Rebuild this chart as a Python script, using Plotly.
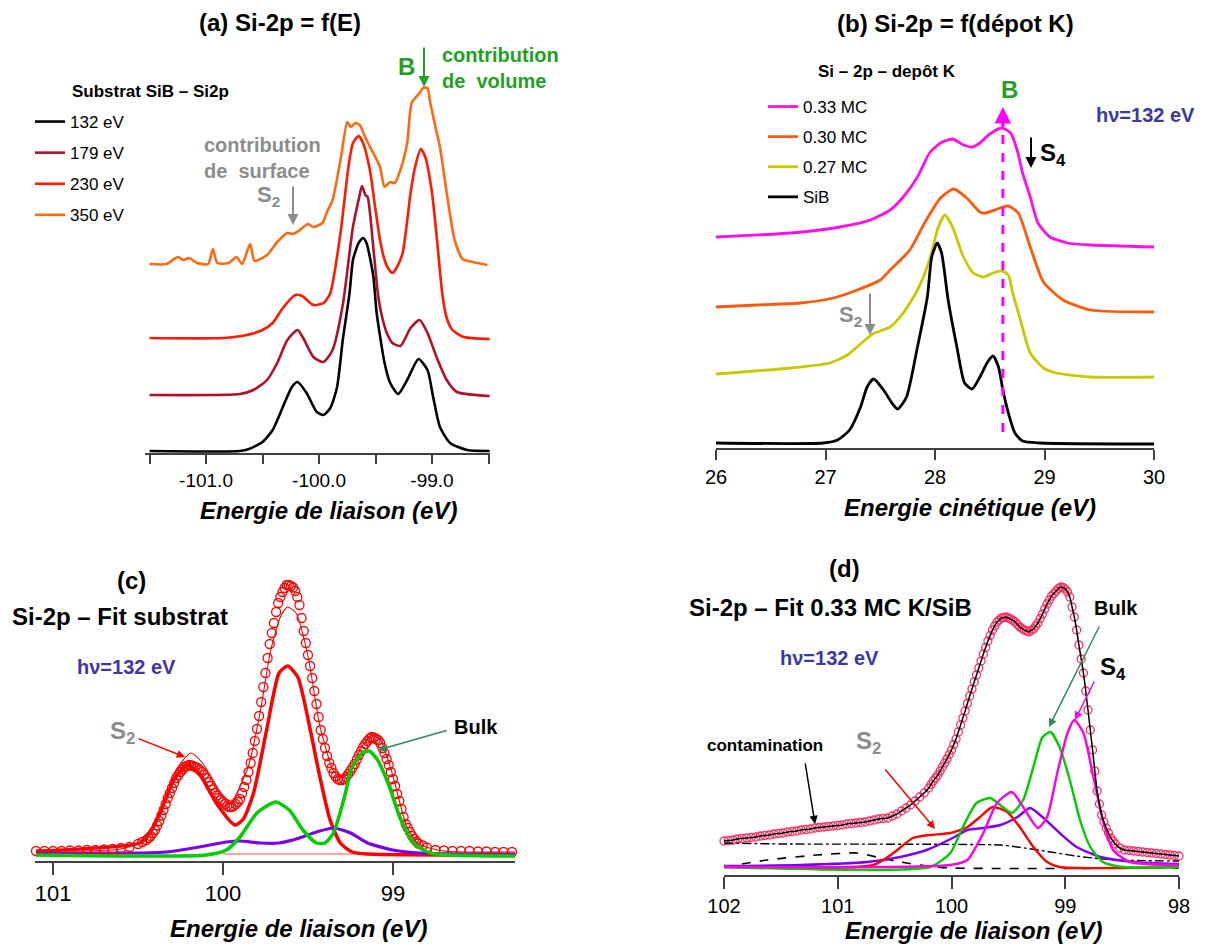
import plotly.graph_objects as go

W, H = 1205, 947
FONT = "Liberation Sans, Arial, Helvetica, sans-serif"
NARROW = "Liberation Sans Narrow, Arial Narrow, Liberation Sans, sans-serif"

# ---------------- Panel (a): Si-2p = f(E) ----------------
A_E_132 = [-101.50, -100.70, -100.62, -100.50, -100.41, -100.32, -100.24, -100.19, -100.11, -100.02, -99.96, -99.90,
           -99.84, -99.79, -99.73, -99.70, -99.65, -99.61, -99.58, -99.52, -99.49, -99.42, -99.37, -99.30, -99.22,
           -99.12, -99.04, -98.99, -98.93, -98.84, -98.69, -98.49]
A_I_132 = [2, 2, 4, 11, 23, 46, 66, 71, 60, 41, 38, 45, 66, 113, 160, 193, 210, 215, 210, 177, 140, 90, 70, 59, 73,
           94, 83, 56, 26, 10, 3, 2]

A_E_179 = [-101.50, -100.70, -100.58, -100.46, -100.37, -100.28, -100.19, -100.14, -100.05, -99.96, -99.88, -99.79,
           -99.70, -99.65, -99.62, -99.59, -99.57, -99.52, -99.48, -99.45, -99.40, -99.35, -99.28, -99.19, -99.11,
           -99.04, -98.96, -98.87, -98.78, -98.49]
A_I_179 = [58, 59, 63, 73, 90, 113, 123, 115, 96, 91, 103, 148, 226, 253, 267, 258, 256, 206, 160, 140, 120, 110,
           107, 125, 133, 120, 96, 73, 61, 57]

A_E_230 = [-101.50, -100.85, -100.64, -100.50, -100.41, -100.32, -100.21, -100.15, -100.05, -99.96, -99.90, -99.81,
           -99.74, -99.70, -99.65, -99.61, -99.55, -99.50, -99.46, -99.42, -99.39, -99.35, -99.31, -99.26, -99.19,
           -99.15, -99.10, -99.06, -99.00, -98.95, -98.91, -98.87, -98.82, -98.72, -98.49]
A_I_230 = [115, 115, 118, 123, 130, 145, 158, 157, 148, 150, 160, 220, 286, 310, 317, 310, 283, 243, 213, 193, 185,
           180, 186, 200, 260, 286, 304, 296, 260, 206, 160, 135, 123, 116, 114]

A_E_350 = [-101.50, -101.35, -101.25, -101.20, -101.15, -101.08, -100.98, -100.94, -100.90, -100.80, -100.73, -100.68,
           -100.61, -100.57, -100.46, -100.37, -100.28, -100.23, -100.17, -100.10, -100.05, -99.97, -99.93, -99.88,
           -99.81, -99.75, -99.72, -99.68, -99.64, -99.58, -99.52, -99.46, -99.42, -99.37, -99.33, -99.28, -99.22,
           -99.18, -99.11, -99.08, -99.04, -99.02, -98.97, -98.93, -98.87, -98.80, -98.73, -98.64, -98.51]
A_I_350 = [189, 189, 196, 193, 195, 190, 189, 204, 190, 190, 196, 189, 209, 192, 198, 211, 220, 219, 223, 229, 226,
           230, 241, 253, 293, 331, 326, 330, 328, 313, 300, 286, 266, 271, 270, 283, 310, 350, 360, 365, 365, 353,
           326, 306, 260, 213, 194, 191, 188]

A_NAMES = ["132 eV", "179 eV", "230 eV", "350 eV"]
A_COLORS = ["#000000", "#B0102A", "#FF1A00", "#FF6A10"]
A_TICKVALS = [-101.0, -100.0, -99.0]
A_TICKTEXT = ["-101.0", "-100.0", "-99.0"]

# ---------------- Panel (b): Si-2p = f(dépot K) ----------------
B_KE_033 = [26.00, 26.68, 27.13, 27.41, 27.59, 27.71, 27.84, 27.95, 28.05, 28.16, 28.26, 28.34, 28.41, 28.50, 28.61,
            28.69, 28.75, 28.80, 28.87, 28.94, 29.05, 29.21, 29.42, 30.00]
B_I_033 = [211, 215, 221, 228, 238, 251, 271, 295, 305, 309, 303, 301, 305, 314, 320, 315, 298, 275, 251, 225, 211,
           205, 203, 201]

B_KE_030 = [26.00, 26.37, 26.77, 27.07, 27.29, 27.50, 27.59, 27.77, 27.91, 28.05, 28.17, 28.29, 28.41, 28.46, 28.57,
            28.67, 28.76, 28.87, 28.99, 29.17, 29.42, 30.00]
B_I_030 = [141, 143, 145, 150, 158, 168, 178, 198, 226, 250, 259, 250, 236, 235, 239, 242, 235, 201, 166, 148, 138, 136]

B_KE_027 = [26.00, 26.68, 27.04, 27.20, 27.34, 27.43, 27.59, 27.71, 27.84, 27.95, 28.03, 28.09, 28.16, 28.26, 28.35,
            28.44, 28.53, 28.61, 28.67, 28.71, 28.78, 28.87, 28.99, 29.11, 29.42, 30.00]
B_I_027 = [74, 80, 85, 93, 106, 114, 121, 135, 158, 188, 221, 233, 221, 191, 175, 171, 175, 177, 173, 155, 128, 95,
           80, 75, 71, 71]

B_KE_SIB = [26.00, 26.98, 27.11, 27.22, 27.32, 27.38, 27.44, 27.53, 27.62, 27.66, 27.74, 27.84, 27.93, 27.97, 28.02,
            28.06, 28.12, 28.20, 28.27, 28.34, 28.41, 28.48, 28.53, 28.58, 28.62, 28.67, 28.73, 28.80, 28.96, 30.00]
B_I_SIB = [5, 5, 8, 18, 41, 61, 69, 58, 43, 39, 51, 101, 151, 191, 205, 195, 148, 101, 65, 59, 71, 86, 92, 81, 58,
           35, 15, 7, 5, 4]

B_NAMES = ["0.33 MC", "0.30 MC", "0.27 MC", "SiB"]
B_COLORS = ["#FF10E8", "#FF5A0A", "#C8C800", "#000000"]
B_TICKVALS = [26, 27, 28, 29, 30]
B_LINE_KE = 28.62  # position of the bulk peak "B"

# ---------------- Panel (c): fit substrat ----------------
C_E_DATA = [98.30, 98.35, 98.40, 98.45, 98.50, 98.55, 98.60, 98.65, 98.70, 98.75, 98.800, 98.825,
            98.8500, 98.8625, 98.8750, 98.8875, 98.9000, 98.9125, 98.9250, 98.9375, 98.9500, 98.9625,
            98.9750, 98.9875, 99.0000, 99.0125, 99.0250, 99.0375, 99.0500, 99.0625, 99.0750, 99.0875,
            99.1000, 99.1125, 99.1250, 99.1375, 99.1500, 99.1625, 99.1750, 99.1875, 99.2000, 99.2125,
            99.2250, 99.2375, 99.2500, 99.2625, 99.2750, 99.2875, 99.3000, 99.3125, 99.3250, 99.3375,
            99.3500, 99.3625, 99.3750, 99.3875, 99.4000, 99.4125, 99.4250, 99.4375, 99.4500, 99.4625,
            99.4750, 99.4875, 99.5000, 99.5125, 99.5250, 99.5375, 99.5500, 99.5625, 99.5750, 99.5875,
            99.6000, 99.6125, 99.6250, 99.6375, 99.6500, 99.6625, 99.6750, 99.6875, 99.7000, 99.7125,
            99.7250, 99.7375, 99.7500, 99.7625, 99.7750, 99.7875, 99.8000, 99.8125, 99.8250, 99.8375,
            99.8500, 99.8625, 99.8750, 99.8875, 99.9000, 99.9125, 99.9250, 99.9375, 99.9500, 99.9625,
            99.9750, 99.9875, 100.0000, 100.0125, 100.0250, 100.0375, 100.0500, 100.0625, 100.0750, 100.0875,
            100.1000, 100.1125, 100.1250, 100.1375, 100.1500, 100.1625, 100.1750, 100.1875, 100.2000, 100.2125,
            100.2250, 100.2375, 100.2500, 100.2625, 100.2750, 100.2875, 100.3000, 100.3125, 100.3250, 100.3375,
            100.3500, 100.3625, 100.3750, 100.3875, 100.4000, 100.4125, 100.4250, 100.4375, 100.4500,
            100.475, 100.500, 100.55, 100.60, 100.65, 100.70, 100.75, 100.80, 100.85, 100.90, 100.95, 101.00,
            101.05, 101.10]
C_I_DATA = [9, 9, 9, 9.5, 9.5, 10, 10, 10, 10.5, 11, 13.5, 15.5,
            17.5, 19.5, 22, 25, 29, 33, 37, 44, 52, 60,
            67, 75, 82, 89, 96, 102, 108, 113, 118, 121,
            122, 123.5, 124, 122.5, 120, 117, 114, 110, 106, 101.5,
            97, 93.5, 90, 87, 84, 82, 81, 81, 82, 84.5,
            88, 93, 98, 105, 113, 122, 131, 144, 157, 170,
            183, 195, 206, 218, 230, 243, 256, 264, 270, 273.5,
            275, 276, 276, 273, 269, 264, 258, 249, 238, 228,
            217, 203, 188, 174, 159, 145, 132, 120, 108, 98,
            89, 81, 74, 68, 62, 59, 57, 55, 54, 54,
            55, 57, 59, 61, 63, 65.5, 68, 71.5, 75, 79,
            83, 86, 89, 91, 93, 94, 95, 95.5, 96, 95,
            94, 91.5, 89, 86, 83, 78, 73, 68, 63, 57,
            51, 45.5, 40, 35.5, 31, 28, 25, 23, 21,
            19, 17, 14, 13, 12, 11.5, 11, 11, 10.5, 10.5, 10, 10,
            10, 10]

C_E_ENV = [101.10, 100.60, 100.45, 100.35, 100.28, 100.19, 100.12, 100.00, 99.95, 99.85, 99.78, 99.72, 99.66, 99.62,
           99.57, 99.50, 99.43, 99.35, 99.30, 99.24, 99.18, 99.12, 99.07, 99.00, 98.92, 98.85, 98.70, 98.28]
C_I_ENV = [10, 12, 22, 55, 90, 108, 98, 65, 60, 95, 150, 210, 245, 254, 248, 205, 135, 90, 83, 95, 115, 126, 120, 85,
           35, 17, 10, 9]

C_E_SURF = [101.10, 100.49, 100.43, 100.37, 100.29, 100.21, 100.14, 100.04, 99.93, 99.88, 99.82, 99.74, 99.67, 99.62,
            99.56, 99.49, 99.43, 99.37, 99.31, 99.24, 99.15, 98.28]
C_I_SURF = [10, 18, 28, 48, 81, 96, 88, 58, 36, 42, 68, 134, 188, 195, 184, 134, 84, 41, 18, 9, 7, 6]

C_E_BULK = [101.10, 100.10, 99.98, 99.90, 99.80, 99.69, 99.61, 99.53, 99.45, 99.40, 99.35, 99.29, 99.24, 99.18,
            99.14, 99.09, 99.02, 98.96, 98.88, 98.78, 98.28]
C_I_BULK = [6, 6, 11, 24, 48, 59, 51, 31, 18, 18, 28, 61, 94, 108, 110, 101, 74, 44, 18, 8, 5]

C_E_S3 = [101.10, 100.49, 100.33, 100.14, 99.98, 99.90, 99.78, 99.67, 99.55, 99.45, 99.35, 99.25, 99.15, 99.00, 98.84,
          98.28]
C_I_S3 = [8, 8, 9, 14, 19, 20, 18, 18, 23, 29, 33, 28, 18, 11, 8, 7]

C_E_BASE = [100.0, 98.28]
C_I_BASE = [7, 7]
C_TICKVALS = [101, 100, 99]

# ---------------- Panel (d): fit 0.33 MC K/SiB ----------------
D_E_DATA = [98.00, 98.04, 98.08, 98.12, 98.16, 98.20, 98.24, 98.28, 98.32, 98.36, 98.40, 98.44, 98.48, 98.52, 98.56,
            98.58, 98.60, 98.62, 98.64, 98.66, 98.68, 98.70, 98.72, 98.74, 98.76, 98.78, 98.80, 98.82, 98.84, 98.86,
            98.88, 98.90, 98.92, 98.94, 98.96, 98.98, 99.00, 99.02, 99.04, 99.06, 99.08, 99.10, 99.12, 99.14, 99.16,
            99.18, 99.20, 99.22, 99.24, 99.26, 99.28, 99.30, 99.32, 99.34, 99.36, 99.38, 99.40, 99.42, 99.44, 99.46,
            99.48, 99.50, 99.52, 99.54, 99.56, 99.58, 99.60, 99.62, 99.64, 99.66, 99.68, 99.70, 99.72, 99.74, 99.76,
            99.78, 99.80, 99.82, 99.84, 99.86, 99.88, 99.90, 99.92, 99.94, 99.96, 99.98, 100.00, 100.02, 100.04,
            100.06, 100.08, 100.10, 100.12, 100.14, 100.16, 100.18, 100.20, 100.24, 100.28,
            100.32, 100.36, 100.40, 100.44, 100.48, 100.52, 100.56, 100.60, 100.64, 100.68, 100.72, 100.76, 100.80,
            100.84, 100.88, 100.92, 100.96, 101.00, 101.04, 101.08, 101.12, 101.16, 101.20, 101.24, 101.28, 101.32,
            101.36, 101.40, 101.44, 101.48, 101.52, 101.56, 101.60, 101.64, 101.68, 101.72, 101.76, 101.80, 101.84,
            101.88, 101.92, 101.96, 102.00]
D_I_DATA = [19, 19.5, 20, 20.5, 21, 21.5, 22, 22.5, 23, 23.5, 24, 24.5, 25, 27, 31,
            34, 37, 42, 47, 53, 60, 71, 84, 104, 125, 145, 165, 184, 202, 216,
            230, 245, 258, 268, 278, 283, 286, 287.5, 288, 286.5, 284, 281.5, 279, 275, 271,
            266, 261, 256.5, 252, 249, 246, 244.5, 243, 244, 245, 246.5, 248, 250.5, 253, 254.5,
            256, 257, 258, 257.5, 257, 255, 253, 249, 245, 239.5, 234, 227.5, 221, 214, 207,
            200, 193, 186, 179, 171.5, 164, 157, 150, 143, 136, 130.5, 125, 120.5, 116,
            112, 108, 104, 100, 97, 94, 90.5, 87, 82, 78,
            74, 70, 67, 64, 61, 59, 57, 56.5, 56, 55, 54, 53, 52.5,
            52, 51.5, 51, 50, 49.5, 49, 48.5, 48, 47.5, 47, 46, 45.5, 45,
            44, 43.5, 43, 42, 41.5, 41, 40, 39.5, 39, 38, 37.5, 37, 36.5,
            36, 35, 34.5, 34]

D_E_S2 = [102.00, 100.69, 100.51, 100.34, 100.19, 100.01, 99.86, 99.75, 99.64, 99.51, 99.40, 99.28, 99.16, 99.05, 98.00]
D_I_S2 = [8, 10, 22, 37, 40, 42, 48, 58, 68, 63, 48, 28, 13, 8, 8]

D_E_BULK = [102.00, 100.19, 100.01, 99.90, 99.78, 99.66, 99.55, 99.47, 99.37, 99.28, 99.20, 99.13, 99.05, 98.96, 98.87,
            98.78, 98.67, 98.49, 98.00]
D_I_BULK = [8, 8, 22, 48, 72, 77, 68, 62, 75, 108, 138, 143, 128, 95, 55, 28, 13, 8, 8]

D_E_S4 = [102.00, 100.01, 99.86, 99.72, 99.60, 99.47, 99.37, 99.24, 99.16, 99.07, 98.98, 98.92, 98.84, 98.76, 98.67,
          98.58, 98.43, 98.00]
D_I_S4 = [8, 10, 15, 42, 72, 83, 68, 47, 58, 102, 142, 155, 142, 102, 55, 25, 13, 10]

D_E_S3 = [102.00, 101.33, 100.74, 100.45, 100.22, 99.99, 99.86, 99.72, 99.57, 99.42, 99.31, 99.20, 99.05, 98.90, 98.69,
          98.40, 98.00]
D_I_S3 = [9, 10, 13, 18, 25, 37, 45, 47, 50, 58, 67, 58, 42, 28, 18, 13, 11]

D_E_BG = [102.00, 101.48, 99.57, 99.42, 99.13, 98.84, 98.55, 98.00]
D_I_BG = [32, 31, 30, 28, 23, 18, 15, 14]

D_E_CONT = [102.00, 101.62, 101.18, 100.83, 100.66, 100.45, 100.22, 100.01, 98.00]
D_I_CONT = [8, 15, 20, 22, 18, 13, 9, 7, 7]
D_TICKVALS = [102, 101, 100, 99, 98]


# ---------------- helpers ----------------
def fx(px):
    return px / W


def fy(py):
    return 1 - py / H


def label(x, y, s, size, color="#000000", bold=True, italic=False, xanchor="center", family=FONT):
    return dict(x=fx(x), y=fy(y), xref="paper", yref="paper", text=s, showarrow=False,
                xanchor=xanchor, yanchor="middle", align="left",
                font=dict(size=size, color=color, family=family,
                          weight="bold" if bold else "normal",
                          style="italic" if italic else "normal"))


def arrow(x0, y0, x1, y1, color, width=1.5, size=1.1, head=2):
    return dict(x=fx(x1), y=fy(y1), xref="paper", yref="paper", ax=x0 - x1, ay=y0 - y1,
                axref="pixel", ayref="pixel", text="", showarrow=True, arrowhead=head,
                arrowsize=size, arrowwidth=width, arrowcolor=color)


fig = go.Figure()

# panel (a)
for name, xs, ys, col in zip(A_NAMES, [A_E_132, A_E_179, A_E_230, A_E_350],
                             [A_I_132, A_I_179, A_I_230, A_I_350], A_COLORS):
    fig.add_trace(go.Scatter(x=xs, y=ys, mode="lines", name=name, legend="legend", legendgroup=name,
                             line=dict(color=col, width=2.6, shape="spline", smoothing=0.6),
                             xaxis="x", yaxis="y"))

# panel (b)
for name, xs, ys, col in zip(B_NAMES, [B_KE_033, B_KE_030, B_KE_027, B_KE_SIB],
                             [B_I_033, B_I_030, B_I_027, B_I_SIB], B_COLORS):
    fig.add_trace(go.Scatter(x=xs, y=ys, mode="lines", name=name, legend="legend2", legendgroup="b" + name,
                             line=dict(color=col, width=2.8, shape="spline", smoothing=0.6),
                             xaxis="x2", yaxis="y2"))

# panel (c)
fig.add_trace(go.Scatter(x=C_E_BASE, y=C_I_BASE, mode="lines", showlegend=False,
                         line=dict(color="#FF5050", width=1.2), xaxis="x3", yaxis="y3"))
fig.add_trace(go.Scatter(x=C_E_SURF, y=C_I_SURF, mode="lines", showlegend=False,
                         line=dict(color="#FF0000", width=3.5, shape="spline", smoothing=0.6),
                         xaxis="x3", yaxis="y3"))
fig.add_trace(go.Scatter(x=C_E_S3, y=C_I_S3, mode="lines", showlegend=False,
                         line=dict(color="#7A00F0", width=3.2, shape="spline", smoothing=0.6),
                         xaxis="x3", yaxis="y3"))
fig.add_trace(go.Scatter(x=C_E_DATA, y=C_I_DATA, mode="markers", showlegend=False, cliponaxis=False,
                         marker=dict(symbol="circle-open", size=9, color="#FF0000", line=dict(width=1.3)),
                         xaxis="x3", yaxis="y3"))
fig.add_trace(go.Scatter(x=C_E_ENV, y=C_I_ENV, mode="lines", showlegend=False,
                         line=dict(color="#FF0000", width=1.1, shape="spline", smoothing=0.6),
                         xaxis="x3", yaxis="y3"))
fig.add_trace(go.Scatter(x=C_E_BULK, y=C_I_BULK, mode="lines", showlegend=False,
                         line=dict(color="#00CC00", width=3.5, shape="spline", smoothing=0.6),
                         xaxis="x3", yaxis="y3"))

# panel (d)
fig.add_trace(go.Scatter(x=D_E_DATA, y=D_I_DATA, mode="markers", showlegend=False, cliponaxis=False,
                         marker=dict(symbol="circle-open", size=8, color="#FF2E63", line=dict(width=1.3)),
                         xaxis="x4", yaxis="y4"))
fig.add_trace(go.Scatter(x=D_E_CONT, y=D_I_CONT, mode="lines", showlegend=False,
                         line=dict(color="#000000", width=1.6, dash="dash", shape="spline", smoothing=0.6),
                         xaxis="x4", yaxis="y4"))
fig.add_trace(go.Scatter(x=D_E_BG, y=D_I_BG, mode="lines", showlegend=False,
                         line=dict(color="#000000", width=1.4, dash="dashdot", shape="spline", smoothing=0.6),
                         xaxis="x4", yaxis="y4"))
for xs, ys, col in [(D_E_S3, D_I_S3, "#7A00F0"), (D_E_S2, D_I_S2, "#FF0000"),
                    (D_E_BULK, D_I_BULK, "#00CC00"), (D_E_S4, D_I_S4, "#FF00E0")]:
    fig.add_trace(go.Scatter(x=xs, y=ys, mode="lines", showlegend=False,
                             line=dict(color=col, width=2.4, shape="spline", smoothing=0.6),
                             xaxis="x4", yaxis="y4"))
fig.add_trace(go.Scatter(x=D_E_DATA, y=D_I_DATA, mode="lines", showlegend=False,
                         line=dict(color="#000000", width=1.5, shape="spline", smoothing=0.6),
                         xaxis="x4", yaxis="y4"))

AX = dict(showline=True, linecolor="#404040", linewidth=1.5, ticks="outside", tickwidth=1.5,
          tickcolor="#404040", showgrid=False, zeroline=False, automargin=False)
YH = dict(visible=False, showgrid=False, zeroline=False)

fig.update_layout(
    width=W, height=H, autosize=False,
    margin=dict(l=0, r=0, t=0, b=0, pad=0, autoexpand=False),
    paper_bgcolor="white", plot_bgcolor="rgba(0,0,0,0)",
    font=dict(family=FONT, color="#000000"),
    xaxis=dict(domain=[fx(145), fx(490)], range=[-101.54, -98.487], anchor="y", ticklen=9,
               tickvals=A_TICKVALS, ticktext=A_TICKTEXT, tickfont=dict(size=19, family=FONT),
               minor=dict(dtick=0.5, tick0=-101.5, ticks="outside", ticklen=9, tickwidth=1.5,
                          tickcolor="#404040", showgrid=False),
               **AX),
    yaxis=dict(domain=[fy(453), fy(60)], range=[0, 393], anchor="x", **YH),
    xaxis2=dict(domain=[fx(716), fx(1154)], range=[26, 30], anchor="y2", ticklen=10,
                tickvals=B_TICKVALS, tickfont=dict(size=20, family=FONT), **AX),
    yaxis2=dict(domain=[fy(448), fy(60)], range=[0, 388], anchor="x2", **YH),
    xaxis3=dict(domain=[fx(35), fx(515)], range=[101.106, 98.282], anchor="y3", ticklen=12,
                tickvals=C_TICKVALS, tickfont=dict(size=22, family=FONT), **AX),
    yaxis3=dict(domain=[fy(861), fy(560)], range=[0, 301], anchor="x3", **YH),
    xaxis4=dict(domain=[fx(724), fx(1179)], range=[102, 98], anchor="y4", ticklen=12,
                tickvals=D_TICKVALS, tickfont=dict(size=20, family=NARROW), **AX),
    yaxis4=dict(domain=[fy(875), fy(560)], range=[0, 315], anchor="x4", **YH),
    legend=dict(x=fx(30), y=fy(104), xanchor="left", yanchor="top", bgcolor="rgba(0,0,0,0)",
                font=dict(size=17, family=FONT), traceorder="grouped", tracegroupgap=6, itemwidth=30),
    legend2=dict(x=fx(763), y=fy(89), xanchor="left", yanchor="top", bgcolor="rgba(0,0,0,0)",
                 font=dict(size=17, family=FONT), traceorder="grouped", tracegroupgap=5, itemwidth=30),
)

# dashed magenta marker of the bulk peak position in (b)
fig.add_shape(type="line", xref="x2", yref="y2", x0=B_LINE_KE, x1=B_LINE_KE, y0=16, y1=333,
              line=dict(color="#FF00FF", width=3, dash="dash"))

GRAY = "#8C8C8C"
GREEN = "#22A022"
BLUE = "#3A3A9E"
TEAL = "#2E8B57"

ann = [
    # panel (a)
    label(280, 23, "(a) Si-2p = f(E)", 24),
    label(70, 92, "Substrat SiB – Si2p", 17, xanchor="left"),
    label(202, 158, "contribution<br>de\u00a0 surface", 20, color=GRAY, xanchor="left"),
    label(268, 196, "S<sub>2</sub>", 22, color=GRAY),
    label(406, 66, "B", 24, color=GREEN),
    label(440, 68, "contribution<br>de\u00a0 volume", 20, color=GREEN, xanchor="left"),
    label(329, 510, "Energie de liaison (eV)", 24, italic=True),
    arrow(293, 185, 293, 225, GRAY, width=2),
    arrow(424, 46, 424, 87, GREEN, width=2),
    # panel (b)
    label(955, 24, "(b) Si-2p = f(dépot K)", 24),
    label(816, 72, "Si – 2p – depôt K", 17, xanchor="left"),
    label(1009, 89, "B", 24, color=GREEN),
    label(1145, 115, "hν=132 eV", 20, color=BLUE),
    label(1053, 155, "S<sub>4</sub>", 24),
    label(850, 316, "S<sub>2</sub>", 22, color=GRAY),
    label(970, 507, "Energie cinétique (eV)", 24, italic=True),
    arrow(1031, 136, 1031, 168, "#000000", width=2),
    arrow(870, 292, 870, 335, GRAY, width=2),
    dict(x=B_LINE_KE, y=341, xref="x2", yref="y2", ax=0, ay=22, axref="pixel", ayref="pixel", text="",
         showarrow=True, arrowhead=2, arrowsize=1.1, arrowwidth=3, arrowcolor="#FF00FF"),
    # panel (c)
    label(131, 580, "(c)", 24),
    label(10, 616, "Si-2p – Fit substrat", 24, xanchor="left"),
    label(126, 667, "hν=132 eV", 20, color="#4632A8"),
    label(122, 732, "S<sub>2</sub>", 24, color=GRAY),
    label(476, 727, "Bulk", 20),
    label(298, 928, "Energie de liaison (eV)", 24, italic=True),
    arrow(137, 738, 185, 757, "#FF0000", width=1.5),
    arrow(448, 730, 378, 750, TEAL, width=1.5),
    # panel (d)
    label(844, 568, "(d)", 24),
    label(830, 607, "Si-2p – Fit 0.33 MC K/SiB", 24),
    label(829, 658, "hν=132 eV", 20, color=BLUE),
    label(765, 745, "contamination", 17),
    label(868, 742, "S<sub>2</sub>", 24, color=GRAY),
    label(1116, 608, "Bulk", 20),
    label(1113, 668, "S<sub>4</sub>", 24),
    label(973, 930, "Energie de liaison (eV)", 24, italic=True),
    arrow(805, 762, 815, 824, "#000000", width=1.5),
    arrow(884, 768, 935, 829, "#FF0000", width=1.5),
    arrow(1100, 625, 1049, 727, TEAL, width=1.5),
    arrow(1095, 680, 1075, 720, "#FF00FF", width=1.5),
]
fig.update_layout(annotations=ann)

# remove the browser's default 8px page margin so the 1205x947 figure fills the window exactly
fig.write_html("out.html", config={"displayModeBar": False},
               post_script="document.body.style.margin='0px';")
